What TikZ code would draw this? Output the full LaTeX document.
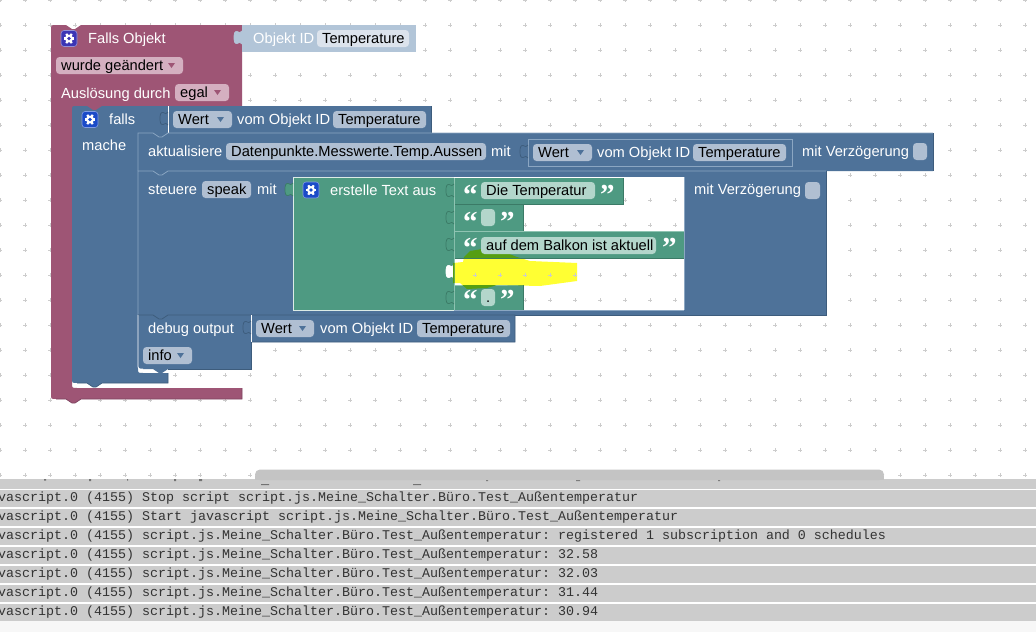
\documentclass[tikz,border=0pt]{standalone}
\usepackage{fontspec}
\setmainfont{Liberation Sans}
\newfontfamily\logfont{Liberation Mono}
\newfontfamily\quotefont{Liberation Serif}
\definecolor{cpurple}{HTML}{9E5575}
\definecolor{cpurpled}{HTML}{7E4460}
\definecolor{cblue}{HTML}{4E7299}
\definecolor{cbluel}{HTML}{8BA6C2}
\definecolor{cblued}{HTML}{3D5C7C}
\definecolor{cgreen}{HTML}{4E9A82}
\definecolor{cgreenl}{HTML}{8FC4B2}
\definecolor{cgreend}{HTML}{3B7A66}
\definecolor{cvalue}{HTML}{B2C5D8}
\definecolor{fpurple}{HTML}{D4AFC0}
\definecolor{fblue}{HTML}{B0BFD2}
\definecolor{fgreen}{HTML}{B3D6CB}
\definecolor{fvalue}{HTML}{DCE3EC}
\definecolor{hlyellow}{HTML}{FFFF33}
\definecolor{hlolive}{HTML}{559E12}
\definecolor{griddot}{HTML}{CCCCCC}
\definecolor{logbar}{HTML}{CCCCCC}
\definecolor{scrollc}{HTML}{C4C4C4}
\definecolor{iconpurple}{HTML}{3B35B5}
\definecolor{iconblue}{HTML}{1B4BC8}
\tikzset{
  whitetext/.style={text=white,inner sep=0pt,anchor=base west,font=\fontsize{14.67}{16}\selectfont},
  blacktext/.style={text=black,inner sep=0pt,anchor=base west,font=\fontsize{14.67}{16}\selectfont},
  logtext/.style={text=black!80,inner sep=0pt,anchor=base west,font=\logfont\frenchspacing\fontsize{13.33}{15}\selectfont},
  quotetext/.style={text=white,inner sep=0pt,anchor=base west,font=\quotefont\bfseries\fontsize{29}{30}\selectfont},
}
\newcount\nodeid
\newcommand{\Lab}[3]{\global\advance\nodeid by 1 \node[whitetext] (n\the\nodeid) at (#1,#2) {#3};}
\newcommand{\BlackLab}[3]{\global\advance\nodeid by 1 \node[blacktext] (n\the\nodeid) at (#1,#2) {#3};}
\newcommand{\Pill}[5]{\fill[#4,rounded corners=3.5] (#1,#3) rectangle (#2,#3+17);
  \BlackLab{#1+5}{#3+13.3}{#5}}
\newcommand{\DropPill}[6]{\Pill{#1}{#2}{#3}{#4}{#5}
  \fill[#6] (#2-15,#3+6) -- (#2-8,#3+6) -- (#2-11.5,#3+11) -- cycle;}
\newcommand{\jig}[4]{\filldraw[fill=#3,draw=#4,line width=.7] (#1,#2)
  .. controls (#1-1,#2+3) and (#1-3,#2+1) .. (#1-5,#2+.5)
  .. controls (#1-7.5,#2) and (#1-8,#2+3) .. (#1-8,#2+6.5)
  .. controls (#1-8,#2+10) and (#1-7.5,#2+13) .. (#1-5,#2+12.5)
  .. controls (#1-3,#2+12) and (#1-1,#2+10) .. (#1,#2+13);}
\newcommand{\gearicon}[3]{\fill[#3,rounded corners=3] (#1-8,#2-8) rectangle (#1+8,#2+8);
  \draw[white!45!#3,line width=.6,rounded corners=3] (#1-8,#2-8) rectangle (#1+8,#2+8);
  \foreach \a in {0,60,...,300}{\draw[white,line width=2.2] (#1,#2)++(\a:3) -- ++(\a:2.4);}
  \fill[white] (#1,#2) circle (4);
  \fill[#3] (#1,#2) circle (1.9);}
\newcommand{\griddots}{\foreach \gx in {0,25,...,1025}{\foreach \gy in {0,25,...,475}{
  \draw[griddot,line width=.8] (\gx-1.7,\gy) -- (\gx+1.7,\gy) (\gx,\gy-1.7) -- (\gx,\gy+1.7);}}}
\newcommand{\Quotes}[3]{\global\advance\nodeid by 1
  \node[quotetext] (n\the\nodeid) at (#1,#3) {“};
  \global\advance\nodeid by 1
  \node[quotetext] (n\the\nodeid) at (#2,#3) {”};}
\newcommand{\LogLine}[2]{\global\advance\nodeid by 1
  \node[logtext] (n\the\nodeid) at (-18,#1) {javascript.0 (4155) #2};}
\begin{document}
\begin{tikzpicture}[x=1pt,y=-1pt]
\clip (0,0) rectangle (1036,632);
\fill[white] (0,0) rectangle (1036,632);
\griddots

% purple outer block
\fill[cpurple] (51,30) .. controls (51,25) .. (56,25) -- (66,25) -- (72,29) -- (75,29) -- (81,25)
  -- (242,25) -- (242,107) -- (110,107) -- (110,112) -- (72,112) -- (72,383) .. controls (72,388) .. (77,388) -- (242,388)
  -- (242,399) -- (81,399) -- (75,403) -- (72,403) -- (66,399) -- (56,399)
  .. controls (51,399) .. (51,394) -- cycle;
\draw[cpurpled,line width=.7] (242,388) -- (242,399) -- (81,399) -- (75,403) -- (72,403) -- (66,399) -- (56,399);
\gearicon{69}{38.5}{iconpurple}
\Lab{88}{43.5}{Falls Objekt}
\DropPill{56}{183}{57}{fpurple}{wurde geändert}{cpurple}
\Lab{61}{98}{Auslösung durch}
\DropPill{175}{229}{84}{fpurple}{egal}{cpurple}
% Objekt ID value
\fill[cvalue] (242,25) rectangle (416,52);
\jig{242}{31}{cvalue}{cvalue}
\Lab{253}{43.5}{Objekt ID}
\Pill{317}{409}{30}{fvalue}{Temperature}

% falls block
\fill[cblue] (72,111) .. controls (72,106) .. (77,106) -- (87,106) -- (93,110) -- (96,110) -- (102,106)
  -- (431,106) -- (431,133) -- (170,133) -- (170,138) -- (138,138) -- (138,368) .. controls (138,373) .. (143,373)
  -- (168,373) -- (168,383) -- (102,383) -- (96,387) -- (93,387) -- (87,383) -- (77,383)
  .. controls (72,383) .. (72,378) -- cycle;
\fill[cblue] (138,133) rectangle (170,321);
\draw[cblued,line width=.7] (168,373) -- (168,383) -- (102,383) -- (96,387) -- (93,387) -- (87,383) -- (77,383);
\draw[cblued,line width=.7] (431,106) -- (431,133);
\draw[white,line width=.7] (168,106) -- (168,133);
\jig{168}{112}{cblue}{cblued}
\gearicon{90}{119.5}{iconblue}
\Lab{109}{124.5}{falls}
\Lab{82}{150.5}{mache}
\DropPill{173}{232}{111}{fblue}{Wert}{cblue}
\Lab{237}{124.5}{vom Objekt ID}
\Pill{333}{426}{111}{fblue}{Temperature}

% aktualisiere block
\fill[cblue] (138,133) -- (153,133) -- (159,137) -- (162,137) -- (168,133) -- (933,133) -- (933,171) -- (138,171) -- cycle;
\draw[cbluel,line width=.8] (138,171) -- (138,133) -- (153,133) -- (159,137) -- (162,137) -- (168,133) -- (933,133);
\draw[cblued,line width=.8] (933,133) -- (933,171);
\Lab{148}{156.5}{aktualisiere}
\Pill{226}{486}{143}{fblue}{Datenpunkte.Messwerte.Temp.Aussen}
\Lab{491}{156.5}{mit}
\fill[cblue] (528,139) rectangle (792,166);
\draw[cbluel,line width=.8] (528,139) -- (792,139) -- (792,166) -- (528,166) -- cycle;
\jig{528}{145}{cblue}{cblued}
\DropPill{533}{592}{144}{fblue}{Wert}{cblue}
\Lab{597}{157.5}{vom Objekt ID}
\Pill{693}{786}{144}{fblue}{Temperature}
\Lab{802}{156.5}{mit Verzögerung}
\fill[fblue,rounded corners=3.5] (913,143) rectangle (927,160);

% steuere block
\fill[cblue] (138,171) -- (153,171) -- (159,175) -- (162,175) -- (168,171) -- (826,171) -- (826,315) -- (138,315) -- cycle;
\draw[cbluel,line width=.8] (138,315) -- (138,171) -- (153,171) -- (159,175) -- (162,175) -- (168,171) -- (826,171);
\draw[cblued,line width=.8] (826,171) -- (826,315) -- (515,315);
% hole with the highlight and the grid showing through
\fill[white] (453,177) rectangle (684,310);
\fill[hlyellow] (453,263) -- (463,262) -- (464,257) -- (470,251) -- (482,249) -- (502,251) -- (517,257) -- (530,261)
  -- (577,263) -- (577,281) -- (540,286) -- (497,285) -- (487,288) -- (467,289) -- (460,283) -- (453,283) -- cycle;
\begin{scope}
  \clip (453,177) rectangle (684,310);
  \griddots
\end{scope}
\draw[cbluel,line width=.8] (684,177) -- (684,310);
\draw[cbluel,line width=.8] (453,310) -- (684,310);
\Lab{148}{194.5}{steuere}
\Pill{202}{251}{181}{fblue}{speak}
\Lab{257}{194.5}{mit}
\Lab{694}{194.5}{mit Verzögerung}
\fill[fblue,rounded corners=3.5] (805,182) rectangle (820,199);

% green text join block
\fill[cgreen] (293,177) rectangle (454,310);
\draw[white!80!cgreen,line width=.8] (293,310) -- (293,177) -- (454,177);
\draw[white!80!cgreen,line width=.8] (293,310) -- (454,310);
\jig{293}{183}{cgreen}{cgreend}
\gearicon{311}{190}{iconblue}
\Lab{330}{195.5}{erstelle Text aus}

% text rows
\fill[cgreen] (454,178) rectangle (623,204);
\fill[cgreen] (454,204) rectangle (523,231);
\fill[cgreen] (454,232) rectangle (684,258);
\fill[cgreen] (454,285) rectangle (523,310);
\draw[cgreend,line width=.7] (454,204) -- (623,204) -- (623,178);
\draw[cgreenl,line width=.7] (454,231.5) -- (684,231.5);
\draw[cgreend,line width=.7] (454,258) -- (684,258);
\draw[cgreend,line width=.7] (523,204) -- (523,231);
\draw[cgreend,line width=.7] (523,285) -- (523,310);
\draw[cgreenl,line width=.7] (454,285) -- (523,285);
\draw[cgreenl,line width=.7] (454,178) -- (454,310);
\jig{454}{184}{cgreen}{cgreend}
\jig{454}{211}{cgreen}{cgreend}
\jig{454}{238}{cgreen}{cgreend}
\jig{454}{265}{white}{white}
\jig{454}{291}{cgreen}{cgreend}

% highlight over the green parts
\begin{scope}
  \clip (293,177) rectangle (454.5,310) (454,232) rectangle (684,258) (454,285) rectangle (523,310);
  \fill[hlolive] (453,263) -- (463,262) -- (464,257) -- (470,251) -- (482,249) -- (502,251) -- (517,257) -- (530,261)
  -- (577,263) -- (577,281) -- (540,286) -- (497,285) -- (487,288) -- (467,289) -- (460,283) -- (453,283) -- cycle;
\end{scope}

\Quotes{463}{600}{204.5}
\Pill{481}{595}{182}{fgreen}{Die Temperatur}
\Quotes{463}{500}{231.5}
\fill[fgreen,rounded corners=3.5] (481,209) rectangle (495,226);
\Quotes{463}{662}{257.5}
\Pill{481}{656}{237}{fgreen}{auf dem Balkon ist aktuell}
\Quotes{463}{500}{309.5}
\Pill{481}{495}{289}{fgreen}{.}

% debug block
\fill[cblue] (138,315) -- (153,315) -- (159,319) -- (162,319) -- (168,315) -- (515,315) -- (515,342) -- (251,342) -- (251,369) -- (168,369) -- (162,373) -- (159,373) -- (153,369) -- (143,369) .. controls (138,369) .. (138,364) -- cycle;
\draw[cblued,line width=.8] (138,315) -- (153,315) -- (159,319) -- (162,319) -- (168,315) -- (515,315) -- (515,342) -- (251,342);
\draw[white,line width=.8] (138,315) -- (138,364) .. controls (138,369) .. (143,369);
\draw[white,line width=.7] (251,315) -- (251,342);
\draw[cblued,line width=.8] (251,342) -- (251,369) -- (168,369);
\jig{251}{321}{cblue}{cblued}
\Lab{148}{333}{debug output}
\DropPill{256}{314}{320}{fblue}{Wert}{cblue}
\Lab{320}{333}{vom Objekt ID}
\Pill{417}{510}{320}{fblue}{Temperature}
\DropPill{143}{192}{347}{fblue}{info}{cblue}

% log panel
\fill[logbar] (0,479) rectangle (1036,488.5);
\fill[black!55] (44,479) rectangle (46,480.5) (89,479) rectangle (91,481) (127,479) rectangle (128,480.5)
  (174,479) rectangle (176,481) (199,479) rectangle (202,481) (261,484) rectangle (269,485)
  (413,484) rectangle (421,485) (486,479) rectangle (488,481) (576,479) rectangle (580,481) (718,479) rectangle (720,481);
\fill[scrollc,rounded corners=5] (255,469.5) rectangle (884,480);
\fill[scrollc] (255,476) rectangle (884,480);
\foreach \r in {0,...,6}{\fill[logbar] (0,490+19*\r) rectangle (1036,507+19*\r);}
\fill[black!3] (0,621) rectangle (1036,632);
\LogLine{501.5}{Stop script script.js.Meine\_Schalter.Büro.Test\_Außentemperatur}
\LogLine{520.5}{Start javascript script.js.Meine\_Schalter.Büro.Test\_Außentemperatur}
\LogLine{539.5}{script.js.Meine\_Schalter.Büro.Test\_Außentemperatur: registered 1 subscription and 0 schedules}
\LogLine{558.5}{script.js.Meine\_Schalter.Büro.Test\_Außentemperatur: 32.58}
\LogLine{577.5}{script.js.Meine\_Schalter.Büro.Test\_Außentemperatur: 32.03}
\LogLine{596.5}{script.js.Meine\_Schalter.Büro.Test\_Außentemperatur: 31.44}
\LogLine{615.5}{script.js.Meine\_Schalter.Büro.Test\_Außentemperatur: 30.94}
\end{tikzpicture}
\end{document}
